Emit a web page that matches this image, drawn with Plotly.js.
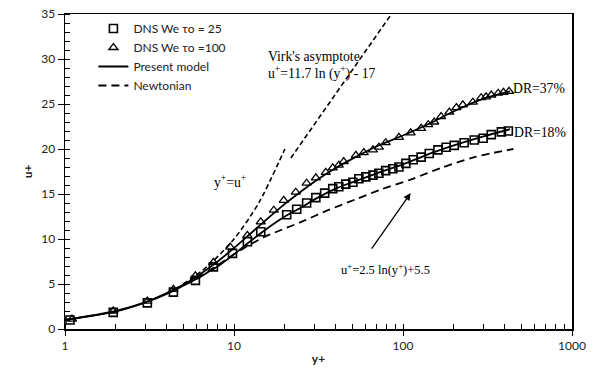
<!DOCTYPE html>
<html>
<head>
<meta charset="utf-8">
<script src="https://cdn.plot.ly/plotly-3.0.1.min.js"></script>
<style>html,body{margin:0;padding:0;background:#fff;}#chart{width:597px;height:368px;}</style>
</head>
<body>
<div id="chart"></div>
<script>
// DNS We_tau0 = 25 (squares)
const sqY = [1.07,1.93,3.07,4.38,5.91,7.55,9.8,12.0,14.4,20.5,23.5,26.9,30.5,34.4,38.4,41.7,45.9,50.5,54.8,60.3,66.4,72,79,87,94.6,104,115,128,143,161,180,201,230,264,298,333,382,420];
const sqU = [1.0,1.85,2.9,4.1,5.4,6.9,8.4,9.7,10.8,12.7,13.3,14.0,14.6,15.1,15.6,15.8,16.1,16.3,16.7,16.9,17.1,17.3,17.6,17.8,18.0,18.4,18.8,19.1,19.5,19.9,20.2,20.4,20.7,21.0,21.2,21.6,21.9,22.0];
// DNS We_tau0 = 100 (triangles)
const trY = [1.1,1.93,3.07,4.38,5.91,7.55,9.5,12.0,14.4,17.2,19.7,23.2,26.9,30.5,34.9,38.4,41.7,44.6,52.6,58.6,66.4,72,79,94.6,111,128,141,153,168,188,207,226,259,290,310,333,366,393,424];
const trU = [1.1,2.0,3.1,4.4,5.9,7.4,9.1,10.4,11.9,13.2,14.3,15.2,16.2,16.8,17.4,17.9,18.2,18.6,19.3,19.6,19.9,20.2,20.7,21.3,21.8,22.3,22.7,23.0,23.6,24.1,24.6,24.9,25.2,25.7,25.8,26.0,26.2,26.3,26.4];
// Present model, DR=18%
const m1Y = [1,2,3,4,5,6,7,8,10,12,15,20,25,30,40,50,70,100,150,200,300,430];
const m1U = [1.0,1.95,2.95,3.9,4.8,5.55,6.3,6.95,8.3,9.5,10.9,12.5,13.5,14.4,15.6,16.3,17.3,18.3,19.6,20.4,21.4,22.2];
// Present model, DR=37%
const m2Y = [1,2,3,4,5,6,7,8,10,12,15,20,25,30,40,50,70,100,150,200,300,430];
const m2U = [1.0,2.0,3.0,4.0,4.9,5.8,6.7,7.5,9.0,10.3,11.9,13.9,15.3,16.4,17.9,18.9,20.3,21.5,23.0,24.2,25.6,26.4];
// Newtonian
const nY = [6,7,8,10,12,15,19,25,36,54,74,111,168,265,450];
const nU = [5.6,6.4,7.1,8.3,9.2,10.2,11.0,11.9,13.2,14.5,15.5,16.6,17.9,19.1,20.0];
// Viscous sublayer y+=u+
const vsY = [5,7,10,14,20];
const vsU = [5,7,10,14,20];
// Virk's asymptote
const vkY = [21.7,90];
const vkU = [19.0,35.6];

const lbl = {
  sq: 'DNS We τo = 25',
  tr: 'DNS We τo =100',
  model: 'Present model',
  newt: 'Newtonian'
};

const traces = [
  {x: sqY, y: sqU, mode: 'markers', name: lbl.sq, legendrank: 1,
   marker: {symbol: 'square-open', size: 8, color: 'black', line: {width: 1.6, color: 'black'}}},
  {x: trY, y: trU, mode: 'markers', name: lbl.tr, legendrank: 2,
   marker: {symbol: 'triangle-up-open', size: 8, color: 'black', line: {width: 1.3, color: 'black'}}},
  {x: m1Y, y: m1U, mode: 'lines', name: lbl.model, legendrank: 3,
   line: {color: 'black', width: 1.8, shape: 'spline', smoothing: 0.8}},
  {x: m2Y, y: m2U, mode: 'lines', name: lbl.model, showlegend: false,
   line: {color: 'black', width: 1.8, shape: 'spline', smoothing: 0.8}},
  {x: nY, y: nU, mode: 'lines', name: lbl.newt, legendrank: 4,
   line: {color: 'black', width: 1.8, dash: '8px,5px', shape: 'spline', smoothing: 0.8}},
  {x: vsY, y: vsU, mode: 'lines', showlegend: false,
   line: {color: 'black', width: 1.6, dash: '5px,3px', shape: 'spline', smoothing: 0.8}},
  {x: vkY, y: vkU, mode: 'lines', showlegend: false,
   line: {color: 'black', width: 1.6, dash: '5px,3px'}}
];

const serif = {family: 'Liberation Serif, Times New Roman, serif', size: 13.7, color: 'black'};
const serifS = {family: 'Liberation Serif, Times New Roman, serif', size: 12.5, color: 'black'};
const L = Math.log10;

const layout = {
  width: 597, height: 368,
  margin: {l: 65, r: 25, t: 14, b: 39},
  paper_bgcolor: 'white', plot_bgcolor: 'white',
  font: {family: 'Lato, Open Sans, sans-serif', size: 12, color: '#222'},
  showlegend: true,
  legend: {x: 0.056, y: 1.0, xanchor: 'left', yanchor: 'top', bgcolor: 'rgba(0,0,0,0)',
           font: {family: 'Lato, sans-serif', size: 12, color: '#222'}, tracegroupgap: 0, itemwidth: 30},
  xaxis: {
    type: 'log', range: [0, 3],
    tickvals: [1, 10, 100, 1000], ticktext: ['1', '10', '100', '1000'],
    ticks: 'outside', ticklen: 5, tickwidth: 1, tickcolor: 'black',
    minor: {ticks: 'inside', ticklen: 5, tickwidth: 1, tickcolor: 'black', dtick: 'D1', showgrid: false},
    showline: true, linecolor: 'black', linewidth: 1.5, mirror: true,
    showgrid: false, zeroline: false,
    tickfont: {size: 12, color: '#222'},
    title: {text: 'y+', font: {size: 12, weight: 'bold', color: '#222'}, standoff: 2}
  },
  yaxis: {
    range: [0, 35], dtick: 5,
    ticks: 'outside', ticklen: 6, tickwidth: 1, tickcolor: 'black',
    minor: {ticks: 'inside', ticklen: 5, tickwidth: 1, tickcolor: 'black', dtick: 1, showgrid: false},
    showline: true, linecolor: 'black', linewidth: 1.5, mirror: true,
    showgrid: false, zeroline: false,
    tickfont: {size: 12, color: '#222'},
    title: {text: 'u+', font: {size: 12, weight: 'bold', color: '#222'}, standoff: 6}
  },
  annotations: [
    {x: L(15.4), y: 30.3, xref: 'x', yref: 'y', text: "Virk's asymptote", showarrow: false,
     xanchor: 'left', yanchor: 'middle', font: serif},
    {x: L(15.4), y: 28.5, xref: 'x', yref: 'y', text: 'u<sup>+</sup>=11.7 ln (y<sup>+</sup>) - 17', showarrow: false,
     xanchor: 'left', yanchor: 'middle', font: serif},
    {x: L(7.4), y: 16.4, xref: 'x', yref: 'y', text: 'y<sup>+</sup>=u<sup>+</sup>', showarrow: false,
     xanchor: 'left', yanchor: 'middle', font: serif},
    {x: L(435), y: 26.7, xref: 'x', yref: 'y', text: 'DR=37%', showarrow: false,
     xanchor: 'left', yanchor: 'middle', font: serif},
    {x: L(440), y: 21.8, xref: 'x', yref: 'y', text: 'DR=18%', showarrow: false,
     xanchor: 'left', yanchor: 'middle', font: serif},
    {x: L(42), y: 6.7, xref: 'x', yref: 'y', text: 'u<sup>+</sup>=2.5 ln(y<sup>+</sup>)+5.5', showarrow: false,
     xanchor: 'left', yanchor: 'middle', font: serifS},
    {x: L(111), y: 15.1, xref: 'x', yref: 'y', text: '', showarrow: true,
     ax: -40, ay: 57, axref: 'pixel', ayref: 'pixel',
     arrowhead: 2, arrowsize: 1.1, arrowwidth: 1.3, arrowcolor: 'black'}
  ]
};

Plotly.newPlot('chart', traces, layout, {displayModeBar: false, staticPlot: true});
</script>
</body>
</html>
